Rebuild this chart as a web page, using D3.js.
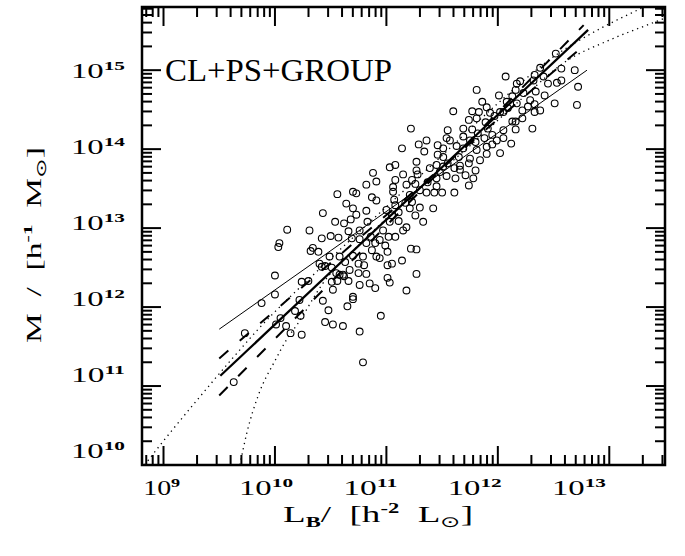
<!DOCTYPE html>
<head>
<meta charset="utf-8">
<script src="https://d3js.org/d3.v7.min.js"></script>
<style>
  body { margin: 0; background: #fff; }
  text { font-family: "Liberation Serif", "DejaVu Serif", serif; fill: #000; }
</style>
</head>
<body>
<div id="viz"></div>
<script>

// log10 L_B and log10 M of each system
var groups = [
 [9.63,11.05],[9.73,11.67],[9.88,12.05],[10.00,12.40],[10.00,12.16],[10.04,12.81],[10.03,12.76],[10.05,11.86],[10.01,11.78],[10.10,11.76],
 [10.14,11.67],[10.24,11.65],[10.18,11.95],[10.22,12.09],[10.23,11.89],[10.24,12.32],[10.30,12.33],[10.11,12.98],[10.31,12.97],[10.32,12.71],
 [10.34,12.75],[10.42,12.87],[10.50,12.90],[10.43,13.19],[10.54,13.08],[10.62,13.06],[10.56,13.43],[10.64,13.31],[10.70,13.46],[10.73,13.44],
 [10.82,13.55],[10.88,13.70],[10.91,13.59],[11.03,13.77],[11.08,13.80],[10.43,12.08],[10.48,11.96],[10.45,11.81],[10.52,11.78],[10.61,11.76],
 [10.65,12.01],[10.70,12.10],[10.76,11.69],[10.79,11.30],[10.52,12.22],[10.55,12.43],[10.61,12.41],[10.66,12.33],[10.49,12.64],[10.42,12.51],
 [10.75,12.55],[10.75,12.43],[10.76,12.28],[10.79,12.64],[10.40,12.55],[10.45,12.52],[10.51,12.50],[10.58,12.41],[10.62,12.39],[10.51,12.32],
 [10.56,12.33],[10.85,12.30],[10.90,12.24],[10.70,12.13],[10.95,11.89],[10.58,12.64],[10.70,12.65],[10.91,12.64],[10.94,12.62],[10.80,12.53],
 [11.01,12.53],[10.82,12.42],[11.01,12.37],[11.03,12.31],[11.18,12.21],[10.69,12.87],[10.76,12.86],[10.86,12.89],[10.90,12.81],[10.82,12.81],
 [11.01,12.70],[11.02,12.89],[11.08,12.89],[10.66,12.96],[10.76,12.97],[10.57,12.88],[10.70,13.25],[10.82,13.22],[11.00,13.23],[11.05,13.16],
 [10.73,13.17],[10.68,13.11],[10.83,13.08],[11.11,13.09],[10.87,13.39],[10.91,13.35],[11.07,13.36],[11.06,13.52],[11.06,13.46],[11.15,13.68],
 [11.27,13.84],[11.27,13.73],[11.45,13.80],[11.61,13.76],[11.66,13.79],[11.74,13.82],[11.80,13.73],[11.78,13.63],[11.74,13.54],[11.18,13.55],
 [11.36,13.45],[11.43,13.45],[11.50,13.45],[11.61,13.45],[11.45,13.53],[11.21,13.25],[11.30,13.26],[11.42,13.25],[11.33,13.08],[11.18,13.01],
 [11.22,12.74],[11.27,12.73],[11.14,12.59],[11.27,12.42],[11.05,12.55],[11.15,12.97],
 [12.07,14.92],[12.38,15.03],[12.33,14.94],[12.41,14.92],[11.81,14.75],[12.17,14.83],[12.20,14.86],[12.01,14.68],[12.16,14.75],[12.23,14.71],
 [12.34,14.73],[12.29,14.62],[11.60,14.48],[11.86,14.60],[11.77,14.48],[11.83,14.47],[11.90,14.53],[11.93,14.46],[12.08,14.60],[12.17,14.58],
 [12.22,14.49],[12.27,14.54],[12.33,14.47],[12.33,14.57],[11.74,14.37],[11.81,14.39],[11.97,14.42],[12.05,14.47],[12.13,14.35],[12.16,14.35],
 [12.22,14.39],[12.31,14.26],[11.22,14.26],[11.69,14.26],[11.77,14.25],[11.55,14.24],[11.91,14.26],[11.95,14.18],[12.05,14.24],[12.16,14.25],
 [11.54,14.14],[11.57,14.11],[11.69,14.16],[11.80,14.09],[11.88,14.14],[11.90,14.03],[12.05,14.14],[12.12,14.07],[11.29,14.06],[11.36,14.11],
 [11.46,14.05],[11.14,14.01],[11.34,13.97],[11.51,14.01],[11.63,14.04],[11.69,14.01],[11.81,13.99],[11.90,13.94],[11.95,14.06],[12.02,13.95],
 [11.46,13.93],[11.51,13.90],[11.65,13.90],[11.75,13.88],[11.28,13.68],[11.39,13.76],[11.51,13.78],[11.66,13.74],[11.62,13.63],[11.23,13.61],
 [11.45,13.63],[11.26,13.56],[11.21,13.42],[11.23,13.33],
 [12.52,15.21],[12.57,15.02],[12.69,15.00],[12.72,14.79],[12.71,14.56],[12.51,14.58],[12.57,14.87],[12.53,14.84],[12.45,14.83],[12.32,14.87],
 [10.97,12.97],[11.03,13.08],[11.11,13.20],[11.17,13.32],[11.30,13.48],[11.37,13.58],[11.48,13.71],[11.55,13.82],[11.75,14.11],[11.82,14.20],
 [11.89,14.34],[12.02,14.47],[12.09,14.52],[12.13,14.67],[10.94,12.85],[10.87,12.72],[10.99,12.78],[10.63,12.57],[10.67,12.47],[11.08,13.29],
 [11.26,13.16],[11.54,13.66],[11.71,13.67],[11.84,13.86],[11.99,14.11],[12.42,14.68],[12.38,14.49],[10.39,12.70],[11.08,13.61]
];

// fitted relations, [log L, log M] end points
var fitThin   = [[9.50,11.72],[12.80,15.00]];
var fitThick  = [[9.51,11.13],[12.81,15.51]];
var fitSteep  = [[9.50,10.88],[12.77,15.57]];
var fitShallow= [[9.50,11.35],[12.77,15.31]];
// model curves, points
var curveA = [[8.83,10.00],[8.98,10.27],[9.30,10.82],[9.60,11.32],[9.85,11.72],[10.42,12.51],[11.00,13.27],
              [11.50,13.92],[12.00,14.58],[12.50,15.17],[12.95,15.55],[13.28,15.78],[13.35,15.83]];
var curveB = [[9.685,10.00],[9.75,10.42],[9.85,10.88],[10.00,11.32],[10.11,11.60],[10.20,11.78],[10.43,12.30],
              [10.80,12.85],[11.20,13.38],[11.70,13.98],[12.20,14.62],[12.62,15.12],[13.00,15.38],[13.41,15.61],[13.50,15.66]];

var xTicks = [9, 10, 11, 12, 13];
var yTicks = [10, 11, 12, 13, 14, 15];

var width = 685, height = 556;
var frame = {left: 142, right: 665, top: 7, bottom: 465};

var svg = d3.select("#viz").append("svg")
    .attr("width", width)
    .attr("height", height);

var x = d3.scaleLog()
    .domain([Math.pow(10, 8.807), Math.pow(10, 13.50)])
    .range([frame.left, frame.right]);
var y = d3.scaleLog()
    .domain([1e10, Math.pow(10, 15.80)])
    .range([frame.bottom, frame.top]);

// the printed labels drift slightly off their ticks in the original
var xLab = d3.scaleLinear().domain([9, 13]).range([161.7, 579]);
var yLab = d3.scaleLinear().domain([10, 15]).range([451.5, 71]);

svg.append("clipPath").attr("id", "clip")
  .append("rect")
    .attr("x", frame.left).attr("y", frame.top)
    .attr("width", frame.right - frame.left)
    .attr("height", frame.bottom - frame.top);

var plot = svg.append("g").attr("clip-path", "url(#clip)");

function P(d) { return [x(Math.pow(10, d[0])), y(Math.pow(10, d[1]))]; }

var line = d3.line()
    .x(function(d) { return P(d)[0]; })
    .y(function(d) { return P(d)[1]; });

plot.selectAll("circle")
  .data(groups)
  .enter().append("circle")
    .attr("cx", function(d) { return P(d)[0]; })
    .attr("cy", function(d) { return P(d)[1]; })
    .attr("r", 3.4)
    .attr("fill", "none")
    .attr("stroke", "#000")
    .attr("stroke-width", 1.1);

plot.append("path").datum(fitThin)
    .attr("d", line).attr("fill", "none")
    .attr("stroke", "#000").attr("stroke-width", 1);
plot.append("path").datum(fitThick)
    .attr("d", line).attr("fill", "none")
    .attr("stroke", "#000").attr("stroke-width", 2.2);
[fitSteep, fitShallow].forEach(function(f) {
  plot.append("path").datum(f)
    .attr("d", line).attr("fill", "none")
    .attr("stroke", "#000").attr("stroke-width", 2)
    .attr("stroke-dasharray", "12,15");
});
[curveA, curveB].forEach(function(c) {
  plot.append("path").datum(c)
    .attr("d", line.curve(d3.curveMonotoneX)).attr("fill", "none")
    .attr("stroke", "#000").attr("stroke-width", 1.3)
    .attr("stroke-dasharray", "1.3,4");
});

// ticks on all four sides, pointing inwards
function logTicks(scale) {
  var dom = scale.domain(), out = [];
  var lo = Math.floor(Math.log10(dom[0])), hi = Math.ceil(Math.log10(dom[1]));
  for (var e = lo; e <= hi; e++) {
    for (var k = 1; k <= 9; k++) {
      var v = k * Math.pow(10, e);
      if (v >= dom[0] && v <= dom[1]) out.push({v: v, major: k === 1});
    }
  }
  return out;
}
var axes = svg.append("g").attr("stroke", "#000").attr("stroke-width", 2);
logTicks(x).forEach(function(t) {
  var len = t.major ? 19 : 10, px = x(t.v);
  axes.append("line").attr("x1", px).attr("x2", px)
    .attr("y1", frame.bottom).attr("y2", frame.bottom - len);
  axes.append("line").attr("x1", px).attr("x2", px)
    .attr("y1", frame.top).attr("y2", frame.top + len);
});
logTicks(y).forEach(function(t) {
  var len = t.major ? 19 : 10, py = y(t.v);
  axes.append("line").attr("y1", py).attr("y2", py)
    .attr("x1", frame.left).attr("x2", frame.left + len);
  axes.append("line").attr("y1", py).attr("y2", py)
    .attr("x1", frame.right).attr("x2", frame.right - len);
});
svg.append("rect")
    .attr("x", frame.left).attr("y", frame.top)
    .attr("width", frame.right - frame.left)
    .attr("height", frame.bottom - frame.top)
    .attr("fill", "none").attr("stroke", "#000").attr("stroke-width", 2.5);

// the original font is wide: stretch each label to its printed width
function powerLabel(sel, exp) {
  sel.attr("textLength", String(exp).length > 1 ? 54 : 37)
     .attr("lengthAdjust", "spacingAndGlyphs")
     .style("font-size", "20px");
  sel.append("tspan").text("10");
  sel.append("tspan").attr("dy", -8)
    .style("font-size", "13px").style("font-weight", "bold")
    .text(exp);
}
xTicks.forEach(function(e) {
  var t = svg.append("text")
    .attr("x", xLab(e)).attr("y", 495)
    .attr("text-anchor", "middle");
  powerLabel(t, e);
});
yTicks.forEach(function(e) {
  var t = svg.append("text")
    .attr("x", 125).attr("y", yLab(e) + 6.5)
    .attr("text-anchor", "end");
  powerLabel(t, e);
});

svg.append("text")
    .attr("x", 165).attr("y", 81)
    .attr("textLength", 227).attr("lengthAdjust", "spacingAndGlyphs")
    .style("font-size", "32px")
    .text("CL+PS+GROUP");

// axis titles
var xt = svg.append("text")
    .attr("x", 378).attr("y", 522)
    .attr("text-anchor", "middle")
    .attr("textLength", 190).attr("lengthAdjust", "spacingAndGlyphs")
    .style("font-size", "23px");
xt.append("tspan").text("L");
xt.append("tspan").attr("dy", 5).style("font-size", "14px").style("font-weight", "bold").text("B");
xt.append("tspan").attr("dy", -5).text("/\u00a0\u00a0[h");
xt.append("tspan").attr("dy", -9).style("font-size", "14px").style("font-weight", "bold").text("-2");
xt.append("tspan").attr("dy", 9).text("\u00a0\u00a0L");
xt.append("tspan").attr("dy", 5).style("font-size", "15px").style("font-family", "DejaVu Sans").text("\u2299");
xt.append("tspan").attr("dy", -5).text("]");

var yt = svg.append("text")
    .attr("transform", "translate(41,245) rotate(-90)")
    .attr("text-anchor", "middle")
    .attr("textLength", 196).attr("lengthAdjust", "spacingAndGlyphs")
    .style("font-size", "20px");
yt.append("tspan").text("M\u00a0\u00a0/\u00a0\u00a0[h");
yt.append("tspan").attr("dy", -9).style("font-size", "13px").style("font-weight", "bold").text("-1");
yt.append("tspan").attr("dy", 9).text("\u00a0\u00a0M");
yt.append("tspan").attr("dy", 5).style("font-size", "14px").style("font-family", "DejaVu Sans").text("\u2299");
yt.append("tspan").attr("dy", -5).text("]");

</script>
</body>
